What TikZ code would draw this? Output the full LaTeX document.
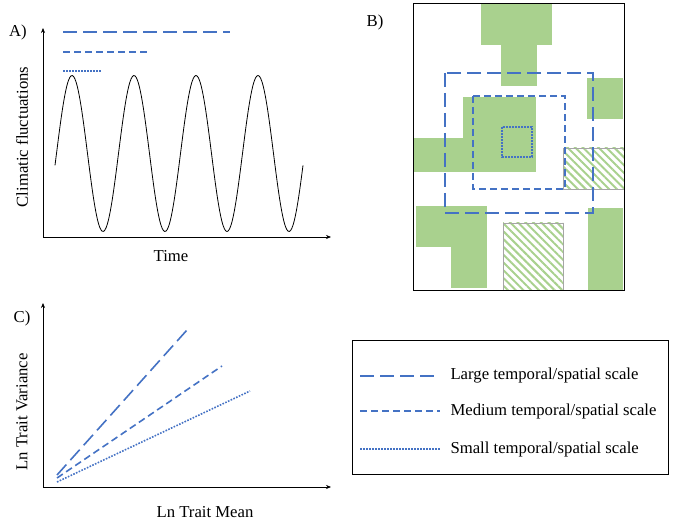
\documentclass[tikz,border=0pt]{standalone}
\usepackage{fontspec}
\setmainfont{Liberation Serif}
\usetikzlibrary{arrows.meta,patterns.meta}
\definecolor{grn}{HTML}{A9D18E}
\definecolor{blu}{HTML}{4472C4}
\begin{document}
\begin{tikzpicture}[x=1pt,y=-1pt,
  ax/.style={-{Stealth[length=5pt,width=4pt]},line width=0.6pt},
  lg/.style={blu,line width=1.6pt,dash pattern=on 14pt off 6pt},
  md/.style={blu,line width=1.6pt,dash pattern=on 7pt off 4pt},
  sm/.style={blu,line width=1.6pt,dash pattern=on 1.6pt off 1.4pt},
  gr/.style={fill=grn,draw=none},
  ht/.style={draw=gray!70,line width=0.8pt,pattern={Lines[angle=-45,distance=5.5pt,line width=2pt]},pattern color=grn},
  lbl/.style={font=\fontsize{16.7}{19}\selectfont}]
\useasboundingbox (0,0) rectangle (680,529);
% Panel A
\node[lbl] (la) at (18,32) {A)};
\coordinate (ao) at (43,237);
\draw[ax] (ao) -- (43,28);
\draw[ax] (ao) -- (331,237);
\draw[lg] (63,32) -- (230,32);
\draw[md] (63,52) -- (150,52);
\draw[sm] (63,71) -- (101,71);
\draw[line width=0.8pt,domain=55:303,samples=200,smooth] plot (\x,{153.5-78*cos(5.80645*(\x-72))});
\node[lbl,rotate=90] (ya) at (22,137) {Climatic fluctuations};
\node[lbl] (xa) at (171,256) {Time};
% Panel B
\node[lbl] (lb) at (375,22) {B)};
\fill[gr] (481,4) rectangle (552,45);
\fill[gr] (501,45) rectangle (537,86);
\fill[gr] (587,78) rectangle (623,119);
\fill[gr] (463,97) rectangle (536,172);
\fill[gr] (414,138) rectangle (463,172);
\fill[gr] (416,206) rectangle (487,247);
\fill[gr] (451,247) rectangle (487,288);
\fill[gr] (588,208) rectangle (623,290);
\draw[ht] (563,148) rectangle (624,189);
\draw[ht] (503,223) rectangle (563,290);
\draw[line width=0.8pt] (413,3) rectangle (624,290);
\draw[lg,line width=1.8pt] (445,73) rectangle (593,213);
\draw[md] (473,96) rectangle (565,189);
\draw[sm] (502,127) rectangle (532,157);
% Panel C
\node[lbl] (lc) at (22,318) {C)};
\coordinate (co) at (43,487);
\draw[ax] (co) -- (43,303);
\draw[ax] (co) -- (331,487);
\draw[lg] (57,475) -- (187,330);
\draw[md] (57,478) -- (222,366);
\draw[sm] (57,482) -- (250,391);
\node[lbl,rotate=90] (yc) at (22,412) {Ln Trait Variance};
\node[lbl] (xc) at (205,512) {Ln Trait Mean};
% Legend
\node[draw,line width=0.6pt,minimum width=316pt,minimum height=134pt] (leg) at (510,407) {};
\draw[lg] (360,376) -- (440,376);
\draw[md] (360,411) -- (440,411);
\draw[sm] (360,449) -- (440,449);
\node[lbl,anchor=west] (t1) at (447,376) {Large temporal/spatial scale};
\node[lbl,anchor=west] (t2) at (447,411) {Medium temporal/spatial scale};
\node[lbl,anchor=west] (t3) at (447,449) {Small temporal/spatial scale};
\end{tikzpicture}
\end{document}
